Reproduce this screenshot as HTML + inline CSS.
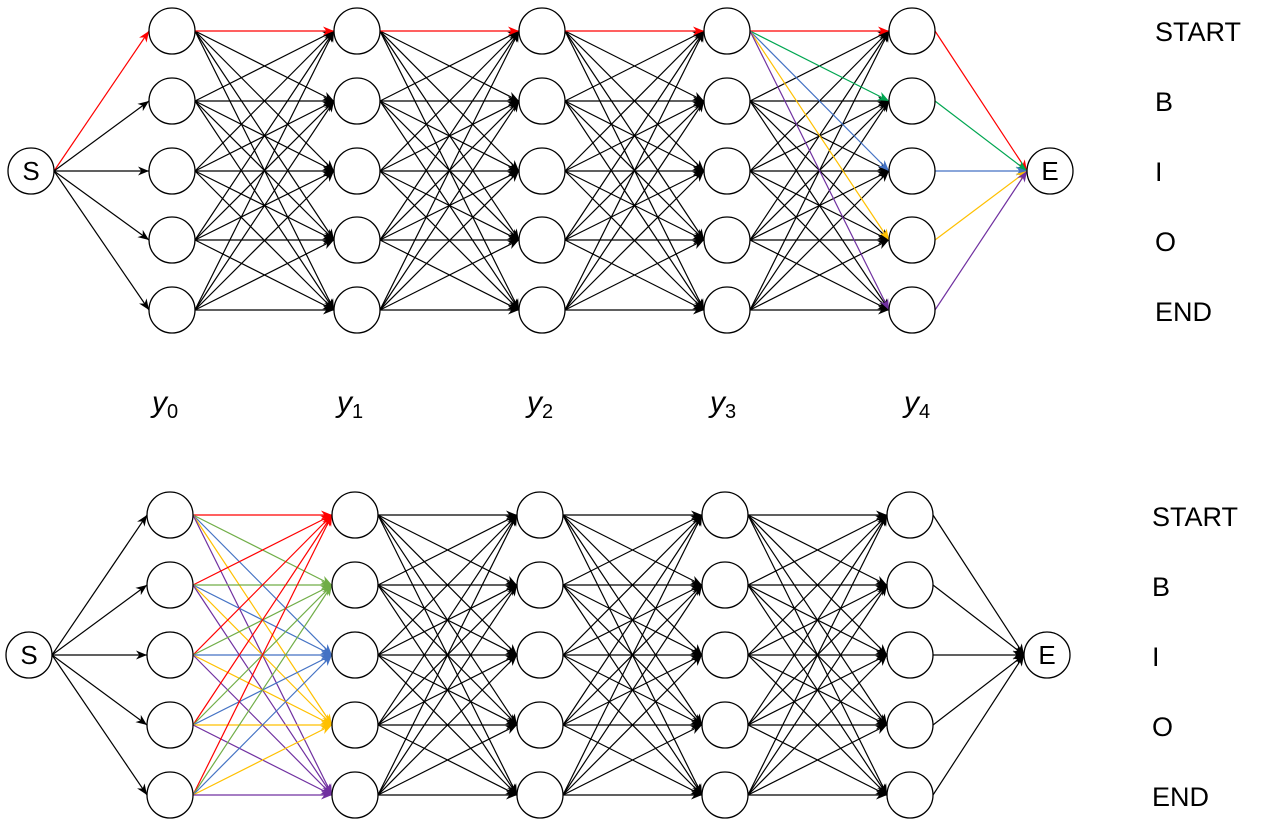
<!DOCTYPE html>
<html><head><meta charset="utf-8"><style>
body{margin:0;background:#fff;width:1267px;height:835px;overflow:hidden}
svg{display:block}
text{font-family:"Liberation Sans",sans-serif}
</style></head><body>
<svg id="s" width="1267" height="835" xmlns="http://www.w3.org/2000/svg">
<defs></defs>
<g id="lines"></g><g id="nodes"></g><g id="txt">
<text x="1155" y="41" font-size="27">START</text>
<text x="1155" y="111" font-size="27">B</text>
<text x="1155" y="181" font-size="27">I</text>
<text x="1155" y="251" font-size="27">O</text>
<text x="1155" y="321" font-size="27">END</text>
<text x="1152" y="526" font-size="27">START</text>
<text x="1152" y="596" font-size="27">B</text>
<text x="1152" y="666" font-size="27">I</text>
<text x="1152" y="736" font-size="27">O</text>
<text x="1152" y="806" font-size="27">END</text>
<g font-family="Liberation Serif,serif" font-style="italic" font-size="30">
<text x="152" y="412">y<tspan font-style="normal" font-size="20" dy="6">0</tspan></text>
<text x="337" y="412">y<tspan font-style="normal" font-size="20" dy="6">1</tspan></text>
<text x="527" y="412">y<tspan font-style="normal" font-size="20" dy="6">2</tspan></text>
<text x="710" y="412">y<tspan font-style="normal" font-size="20" dy="6">3</tspan></text>
<text x="904" y="412">y<tspan font-style="normal" font-size="20" dy="6">4</tspan></text>
</g></g>
</svg>
<script>
var NS="http://www.w3.org/2000/svg",L=document.getElementById("lines"),N=document.getElementById("nodes");
var R=23;
function el(t,a,p){var e=document.createElementNS(NS,t);for(var k in a)e.setAttribute(k,a[k]);(p||L).appendChild(e);return e;}
function arrow(x1,y1,x2,y2,c){
 el("line",{x1:x1,y1:y1,x2:x2,y2:y2,stroke:c,"stroke-width":1.2});
 var dx=x2-x1,dy=y2-y1,l=Math.hypot(dx,dy),ux=dx/l,uy=dy/l,px=-uy,py=ux,s=11,w=4.5;
 var bx=x2-ux*s,by=y2-uy*s,mx=x2-ux*s*0.7,my=y2-uy*s*0.7;
 el("polygon",{points:x2+","+y2+" "+(bx+px*w)+","+(by+py*w)+" "+mx+","+my+" "+(bx-px*w)+","+(by-py*w),fill:c});
}
function circ(x,y,t){el("circle",{cx:x,cy:y,r:R,fill:"#fff",stroke:"#000","stroke-width":1.3},N);
 if(t){var e=el("text",{x:x,y:y+9,"font-size":26,"text-anchor":"middle"},N);e.textContent=t;}}
function diagram(sx,cols,rows,ex,top){
 var sy=rows[2];
 var tc=["#ff0000","#00a651","#4472c4","#ffc000","#7030a0"];
 var bc=["#ff0000","#70ad47","#4472c4","#ffc000","#7030a0"];
 for(var j=0;j<5;j++)arrow(sx+R,sy,cols[0]-R,rows[j],(top&&j==0)?"#ff0000":"#000");
 for(var c=0;c<4;c++){
  var blk=[],col=[];
  for(var i=0;i<5;i++)for(var j=0;j<5;j++){
   var color="#000";
   if(top){ if(c<3&&i==0&&j==0)color="#ff0000"; if(c==3&&i==0)color=tc[j]; }
   else if(c==0)color=bc[j];
   (color=="#000"?blk:col).push([i,j,color]);
  }
  blk.concat(col).forEach(function(a){arrow(cols[c]+R,rows[a[0]],cols[c+1]-R,rows[a[1]],a[2]);});
 }
 for(var i=0;i<5;i++)arrow(cols[4]+R,rows[i],ex-R,sy,top?tc[i]:"#000");
 circ(sx,sy,"S");circ(ex,sy,"E");
 cols.forEach(function(x){rows.forEach(function(y){circ(x,y);});});
}
diagram(31,[172,357,542,727,912],[31,101,171,240,310],1050,true);
diagram(29,[170,355,540,725,910],[515,585,655,725,795],1047,false);
</script>
</body></html>
